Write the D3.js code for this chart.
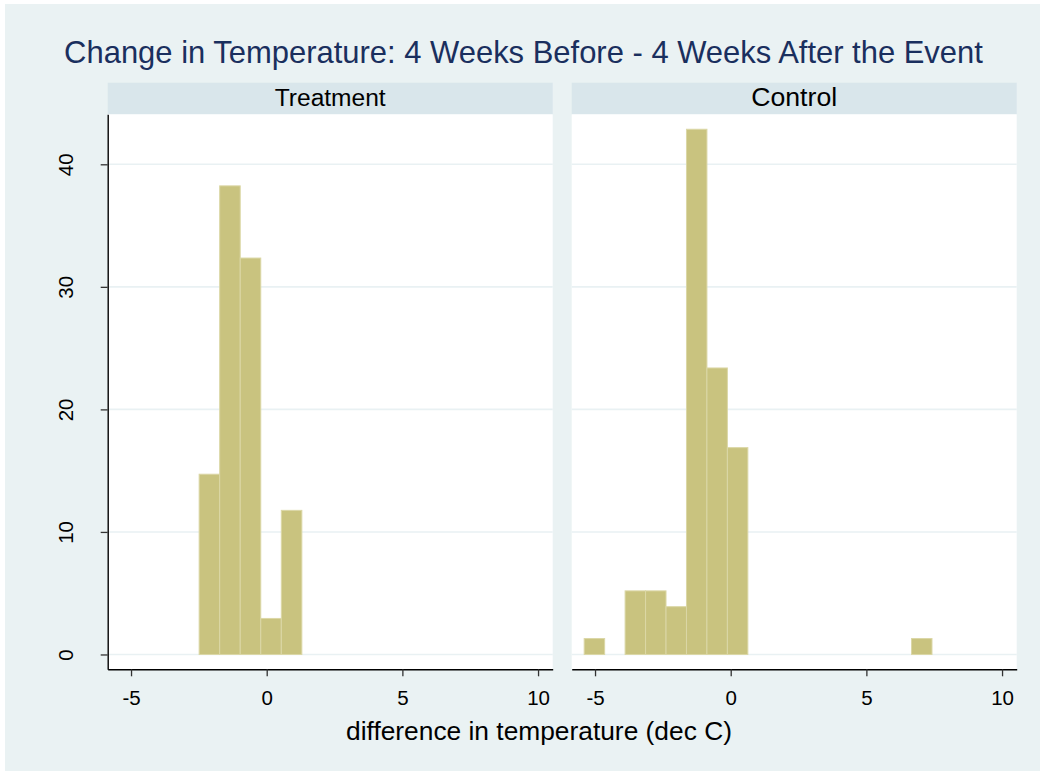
<!DOCTYPE html>
<html>
<head>
<meta charset="utf-8">
<script src="https://cdn.jsdelivr.net/npm/d3@7"></script>
<style>
  html, body { margin: 0; padding: 0; background: #ffffff; }
  svg { display: block; }
  text { font-family: "Liberation Sans", Arial, sans-serif; }
</style>
</head>
<body>
<svg id="chart" width="1040" height="771"></svg>
<script>
// ---------- data ----------
const chartTitle = "Change in Temperature: 4 Weeks Before - 4 Weeks After the Event";
const xAxisTitle = "difference in temperature (dec C)";
const panelNames = ["Treatment", "Control"];

// histogram bins (percent of observations per bin)
const treatmentBinStart = -2.49;
const treatmentBinWidth = 0.757;
const treatmentPercent = [14.71, 38.24, 32.35, 2.94, 11.76];

const controlBinStart = -5.40;
const controlBinWidth = 0.754;
const controlPercent = [1.30, 0, 5.19, 5.19, 3.90, 42.86, 23.38, 16.88,
                        0, 0, 0, 0, 0, 0, 0, 0, 1.30];

const xTicks = [-5, 0, 5, 10];
const yTicks = [0, 10, 20, 30, 40];
const xDomain = [-5.86, 10.54];
const yDomain = [-1.21, 44.08];

// ---------- layout ----------
const W = 1040, H = 771;
const plotTop = 114.3, plotBottom = 669.3, headerTop = 82.7;
const panelX = [[107.7, 552.7], [571.7, 1016.7]];

const colors = {
  bg: "#eaf2f3",
  header: "#d9e6eb",
  grid: "#e9f1f3",
  bar: "#c9c37f",
  barStroke: "#dbd7a6",
  title: "#1a2f5e",
  axis: "#000000",
  text: "#000000"
};

const svg = d3.select("#chart");
svg.append("rect").attr("x", 5).attr("y", 4).attr("width", W - 5).attr("height", H - 4)
  .attr("fill", colors.bg);

function fitText(sel, targetWidth) {
  const base = 20;
  sel.attr("font-size", base);
  const w = sel.node().getComputedTextLength();
  sel.attr("font-size", base * targetWidth / w);
}

// title
const t = svg.append("text").attr("x", 523.5).attr("y", 63).attr("text-anchor", "middle")
  .attr("fill", colors.title).text(chartTitle);
fitText(t, 919);

const y = d3.scaleLinear().domain(yDomain).range([plotBottom, plotTop]);
const fmt = d => String(d);

const panelData = [
  { name: panelNames[0], start: treatmentBinStart, width: treatmentBinWidth, values: treatmentPercent },
  { name: panelNames[1], start: controlBinStart, width: controlBinWidth, values: controlPercent }
];

panelData.forEach((p, i) => {
  const [x0, x1] = panelX[i];
  const x = d3.scaleLinear().domain(xDomain).range([x0, x1]);
  const g = svg.append("g");

  // header band
  g.append("rect").attr("x", x0).attr("y", headerTop).attr("width", x1 - x0)
    .attr("height", plotTop - headerTop).attr("fill", colors.header);
  const ht = g.append("text").attr("x", (x0 + x1) / 2).attr("y", 106)
    .attr("text-anchor", "middle").attr("fill", colors.text).text(p.name);
  fitText(ht, i === 0 ? 111 : 86);

  // plot area
  g.append("rect").attr("x", x0).attr("y", plotTop).attr("width", x1 - x0)
    .attr("height", plotBottom - plotTop).attr("fill", "#ffffff");

  // gridlines
  g.selectAll("line.grid").data(yTicks).join("line").attr("class", "grid")
    .attr("x1", x0).attr("x2", x1)
    .attr("y1", d => y(d)).attr("y2", d => y(d))
    .attr("stroke", colors.grid).attr("stroke-width", 1.6);

  // bars
  const bins = p.values.map((v, k) => ({ lo: p.start + k * p.width, hi: p.start + (k + 1) * p.width, v }))
    .filter(b => b.v > 0);
  g.selectAll("rect.bar").data(bins).join("rect").attr("class", "bar")
    .attr("x", b => x(b.lo)).attr("width", b => x(b.hi) - x(b.lo))
    .attr("y", b => y(b.v)).attr("height", b => y(0) - y(b.v))
    .attr("fill", colors.bar).attr("stroke", colors.barStroke).attr("stroke-width", 1);

  // x axis
  const xa = g.append("g").attr("transform", `translate(0,${plotBottom})`)
    .call(d3.axisBottom(x).tickValues(xTicks).tickFormat(fmt).tickSize(7).tickSizeOuter(0));
  xa.attr("font-size", null).attr("font-family", null);
  xa.select(".domain").attr("stroke", colors.axis).attr("stroke-width", 1.4);
  xa.selectAll(".tick line").attr("stroke", "#333").attr("stroke-width", 1.3);
  xa.selectAll(".tick text").style("font-size", "20.5px")
    .attr("fill", colors.text).attr("dy", null).attr("y", 36);

  if (i === 0) {
    const ya = g.append("g").attr("transform", `translate(${x0},0)`)
      .call(d3.axisLeft(y).tickValues(yTicks).tickFormat(fmt).tickSize(7).tickSizeOuter(0));
    ya.attr("font-size", null).attr("font-family", null);
    ya.select(".domain").attr("stroke", colors.axis).attr("stroke-width", 1.4);
    ya.selectAll(".tick line").attr("stroke", "#333").attr("stroke-width", 1.3);
    ya.selectAll(".tick text").style("font-size", "20.5px")
      .attr("fill", colors.text).attr("text-anchor", "middle").attr("dy", null)
      .attr("x", null).attr("y", null)
      .attr("transform", "translate(-35,0) rotate(-90)");
  }
});

// x axis title
const xt = svg.append("text").attr("x", 539).attr("y", 740).attr("text-anchor", "middle")
  .attr("fill", colors.text).text(xAxisTitle);
fitText(xt, 386);
</script>
</body>
</html>
